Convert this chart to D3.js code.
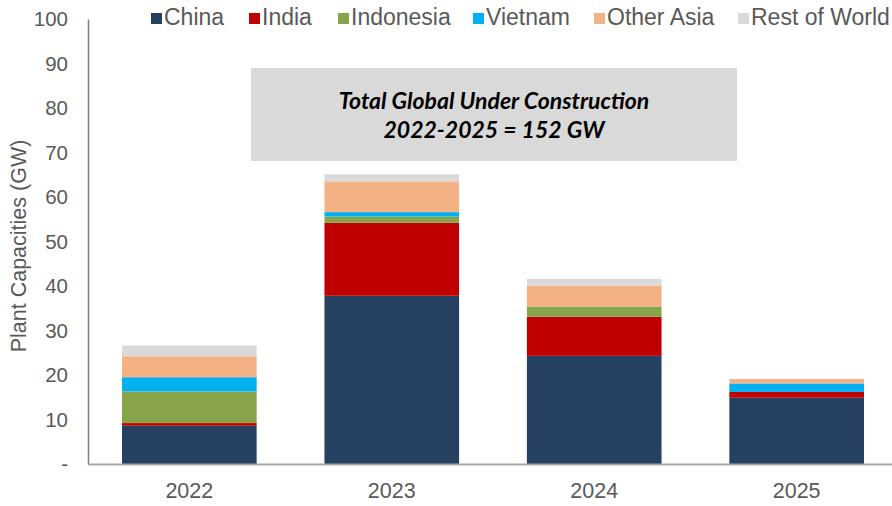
<html>
<head>
  <script src="https://d3js.org/d3.v7.min.js"></script>
  <style>
    body { margin: 0; background: white; }
    text { font-family: "Liberation Sans", Arial, sans-serif; }
    .y.axis .tick text { fill: #595959; font-size: 20.5px; }
    .x.axis .tick text { fill: #595959; font-size: 21.5px; }
    .legend text { fill: #595959; font-size: 23px; }
  </style>
</head>
<body>
  <svg id="chart" width="892" height="506"></svg>
  <script>
    // values, GW
    const years = ["2022", "2023", "2024", "2025"];
    const regions = ["China", "India", "Indonesia", "Vietnam", "Other Asia", "Rest of World"];
    const china = [8.6, 37.8, 24.3, 14.9];
    const india = [0.6, 16.4, 8.8, 1.3];
    const indonesia = [7.1, 1.4, 2.3, 0];
    const vietnam = [3.2, 1.0, 0, 1.9];
    const otherAsia = [4.7, 6.9, 4.7, 1.0];
    const restOfWorld = [2.4, 1.6, 1.5, 0];
    const yTicks = [0, 10, 20, 30, 40, 50, 60, 70, 80, 90, 100];
    const colors = ["#254061", "#C00000", "#88A44B", "#00B0F0", "#F4B183", "#D9D9D9"];

    const series = [china, india, indonesia, vietnam, otherAsia, restOfWorld];
    const table = years.map((yr, i) => {
      const row = { year: yr };
      regions.forEach((r, j) => row[r] = series[j][i]);
      return row;
    });

    const svg = d3.select("svg#chart");
    const plotLeft = 88, plotRight = 898, plotTop = 19, plotBottom = 464;

    const x = d3.scaleBand().domain(years).range([plotLeft, plotRight]).paddingInner(0.335).paddingOuter(0.168);
    const y = d3.scaleLinear().domain([0, 100]).range([plotBottom, plotTop]);
    const color = d3.scaleOrdinal().domain(regions).range(colors);

    const stacked = d3.stack().keys(regions)(table);

    svg.append("g").selectAll("g").data(stacked).join("g")
      .attr("fill", d => color(d.key))
      .selectAll("rect").data(d => d).join("rect")
      .attr("x", d => x(d.data.year))
      .attr("width", x.bandwidth())
      .attr("y", d => y(d[1]))
      .attr("height", d => y(d[0]) - y(d[1]));

    // y axis, no tick marks, "-" for zero
    const yAxis = svg.append("g")
      .attr("class", "y axis")
      .attr("transform", `translate(${plotLeft},0)`)
      .call(d3.axisLeft(y).tickValues(yTicks).tickSize(0).tickPadding(20)
        .tickFormat(d => d === 0 ? "-" : d));
    yAxis.select(".domain").attr("stroke", "#808080").attr("stroke-width", 1.5);

    // x axis
    const xAxis = svg.append("g")
      .attr("class", "x axis")
      .attr("transform", `translate(0,${plotBottom})`)
      .call(d3.axisBottom(x).tickSize(0).tickPadding(19));
    xAxis.select(".domain").attr("stroke", "#a6a6a6").attr("stroke-width", 2);

    svg.append("text")
      .attr("transform", `translate(26,246)rotate(-90)`)
      .attr("text-anchor", "middle")
      .attr("fill", "#595959")
      .style("font-size", "21.5px")
      .text("Plant Capacities (GW)");

    // annotation box
    svg.append("rect")
      .attr("x", 251).attr("y", 68).attr("width", 486).attr("height", 93)
      .attr("fill", "#D9D9D9");
    const note = svg.append("text")
      .attr("text-anchor", "middle")
      .attr("font-weight", "bold")
      .attr("font-style", "italic")
      .style("font-family", "Lato, sans-serif")
      .style("font-size", "23px")
      .attr("fill", "black");
    note.append("tspan").attr("x", 494).attr("y", 109).text("Total Global Under Construction");
    note.append("tspan").attr("x", 494).attr("y", 138).text("2022-2025 = 152 GW");

    // legend
    const legendX = [151, 249, 338, 473, 594, 738];
    const legend = svg.append("g").attr("class", "legend")
      .selectAll("g").data(regions).join("g")
      .attr("transform", (d, i) => `translate(${legendX[i]},0)`);
    legend.append("rect").attr("x", 0).attr("y", 13).attr("width", 11).attr("height", 11)
      .attr("fill", d => color(d));
    legend.append("text").attr("x", 13).attr("y", 25).text(d => d);
  </script>
</body>
</html>
